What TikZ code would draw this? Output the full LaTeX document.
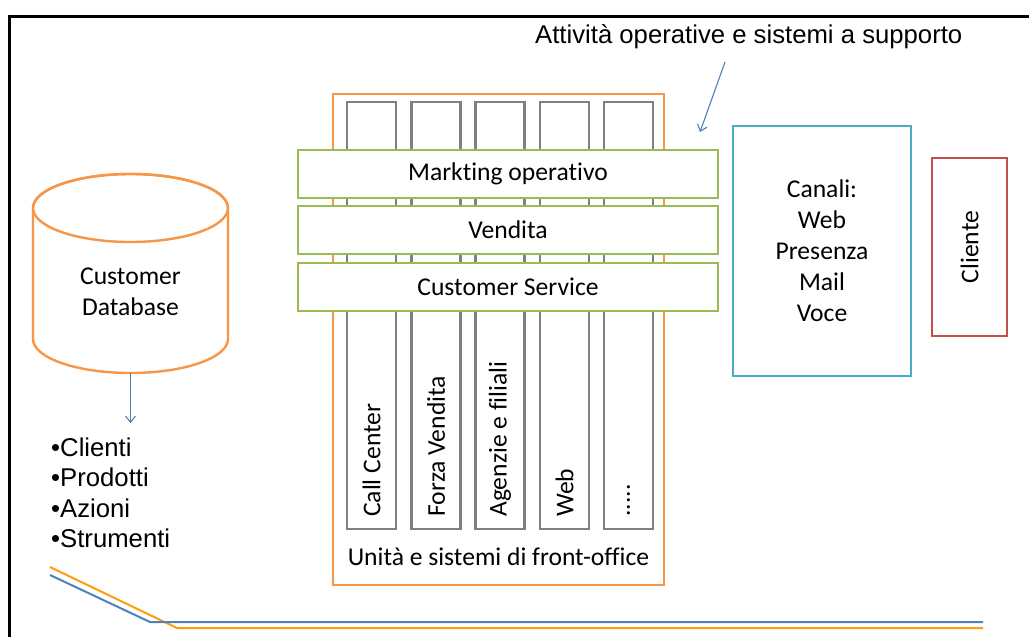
\documentclass[tikz,border=0pt]{standalone}
\usepackage{fontspec}
\setmainfont{Carlito}[Ligatures={NoCommon}]
\newfontfamily\arialfont{Liberation Sans}
\usetikzlibrary{arrows.meta,calc}

\definecolor{frameorange}{HTML}{F79646}
\definecolor{bargreen}{HTML}{9BBB59}
\definecolor{colgray}{HTML}{808080}
\definecolor{chanblue}{HTML}{4BACC6}
\definecolor{clientred}{HTML}{C0504D}
\definecolor{arrowblue}{HTML}{4F81BD}
\definecolor{lineorange}{HTML}{FF9E0D}

\newcommand\moredots{.....}

\tikzset{
  lbl/.style={font=\fontsize{25.6}{31}\selectfont, inner sep=0pt},
  arial/.style={font=\arialfont\fontsize{25.7}{30}\selectfont, inner sep=0pt},
  frameunit/.style={draw=frameorange, line width=2.4pt, fill=white, minimum width=331pt, minimum height=491pt},
  colbox/.style={draw=colgray, line width=2.4pt, fill=white, minimum width=49pt, minimum height=427pt, inner sep=0pt},
  barbox/.style={draw=bargreen, line width=2.4pt, fill=white, minimum width=420pt, minimum height=48pt, lbl},
  chanbox/.style={draw=chanblue, line width=2.4pt, fill=white, minimum width=178pt, minimum height=250pt, lbl, align=center},
  clientbox/.style={draw=clientred, line width=2.4pt, fill=white, minimum width=75pt, minimum height=178pt},
  collabel/.style={lbl, rotate=90, anchor=west},
  pointer/.style={draw=arrowblue, line width=1.1pt, -{Straight Barb[length=6pt,width=10pt]}},
  dbline/.style={draw=frameorange, line width=2.4pt}
}

\begin{document}
\begin{tikzpicture}[x=1pt,y=-1pt]
\useasboundingbox (0,0) rectangle (1029,637);
\fill[white] (0,0) rectangle (1029,637);

% outer frame (top and left edges)
\draw[line width=3pt, line cap=rect] (9,637) -- (9,16) -- (1032,16);

% title and pointer
\node[arial, anchor=base west] (title) at (535,43) {Attività operative e sistemi a supporto};
\coordinate (ptrstart) at (725,62);
\coordinate (ptrend) at (700,132);
\draw[pointer] (ptrstart) -- (ptrend);

% front-office unit with its columns
\node[frameunit] (unit) at (498.5,339.5) {};
\foreach \i/\cx/\txt in {1/371.5/Call Center, 2/436/Forza Vendita, 3/500/Agenzie e filiali, 4/564.5/Web, 5/628.5/\moredots}{
  \node[colbox] (col\i) at (\cx,315.5) {};
  \node[collabel] (collbl\i) at (\cx,517) {\txt};
}
\node[lbl] (unitlbl) at (498.5,557) {Unità e sistemi di front-office};

% operational activities across the columns
\node[barbox] (mkt) at (508,174) {Markting operativo};
\node[barbox] (sales) at (508,230) {Vendita};
\node[barbox] (service) at (508,287) {Customer Service};

% channels and customer
\node[chanbox] (chan) at (822,251) {Canali:\\Web\\Presenza\\Mail\\Voce};
\node[clientbox] (client) at (969.5,247) {};
\node[lbl, rotate=90] (clientlbl) at (969.5,247) {Cliente};

% customer database cylinder
\draw[dbline, fill=white] (33,208) -- (33,339)
  arc[start angle=180, end angle=360, x radius=97.5pt, y radius=34pt]
  -- (228,208)
  arc[start angle=0, end angle=180, x radius=97.5pt, y radius=34pt] -- cycle;
\draw[dbline] (130.5,208) ellipse [x radius=97.5pt, y radius=34pt];
\node[lbl, align=center] (db) at (130.5,292) {Customer\\Database};
\coordinate (dbbottom) at (130.5,373);
\coordinate (listtop) at (130.5,423);
\draw[pointer] (dbbottom) -- (listtop);

% database contents
\node[arial, anchor=base west] (it1) at (51,456) {•Clienti};
\node[arial, anchor=base west] (it2) at (51,486) {•Prodotti};
\node[arial, anchor=base west] (it3) at (51,517) {•Azioni};
\node[arial, anchor=base west] (it4) at (51,547) {•Strumenti};

% bottom rule lines
\coordinate (oa) at (50,567);
\coordinate (ob) at (177,628);
\coordinate (oc) at (983,628);
\coordinate (ba) at (50,575);
\coordinate (bb) at (150,622);
\coordinate (bc) at (983,622);
\draw[lineorange, line width=2pt] (oa) -- (ob) -- (oc);
\draw[arrowblue, line width=2pt] (ba) -- (bb) -- (bc);
\end{tikzpicture}
\end{document}
